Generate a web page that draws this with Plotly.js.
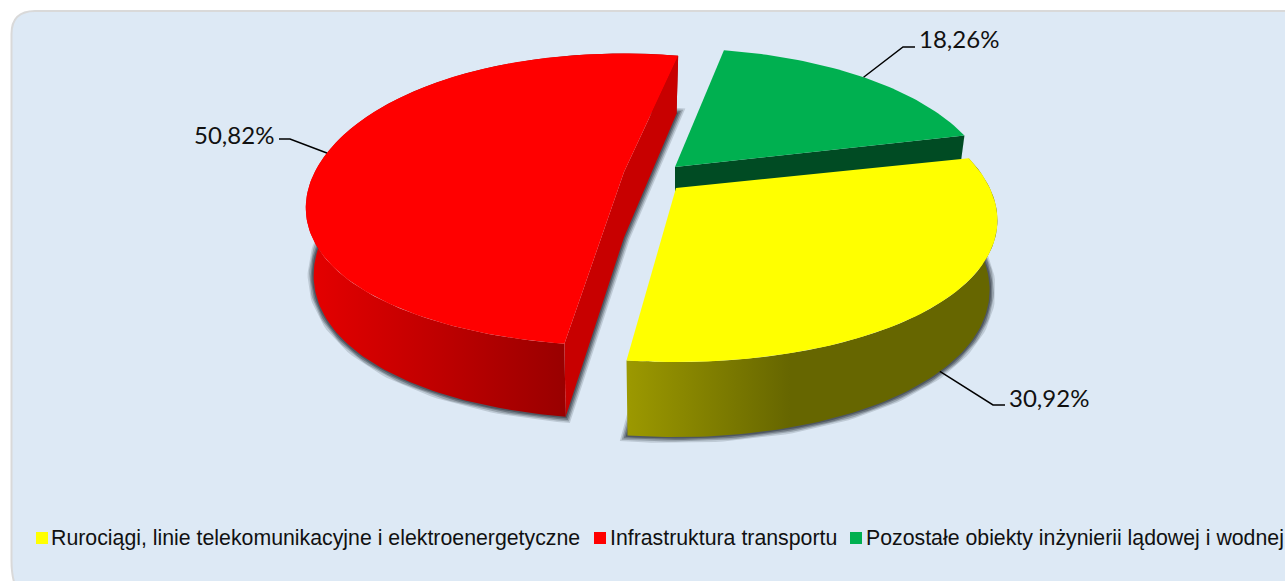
<!DOCTYPE html>
<html>
<head>
<meta charset="utf-8">
<script src="https://cdn.plot.ly/plotly-3.0.1.min.js"></script>
<style>html,body{margin:0;padding:0;background:#fff}#chart{width:1285px;height:581px}</style>
</head>
<body>
<div id="chart"></div>
<script>
// ---- chart data ----
var categories = ['Rurociągi, linie telekomunikacyjne i elektroenergetyczne', 'Infrastruktura transportu', 'Pozostałe obiekty inżynierii lądowej i wodnej'];
var shares = [30.92, 50.82, 18.26];

// ---- styling ----
var topColors = ['#FFFF00', '#FF0000', '#00B050'];
var innerWallColors = ['#666600', '#C80000', '#004B23'];
var outerWallScales = [
  {start: 627, stop: 790, colorscale: [[0, '#9C9900'], [1, '#666600']]},
  {start: 306, stop: 565, colorscale: [[0, '#E60000'], [1, '#990000']]},
  {start: 675, stop: 963, colorscale: [[0, '#004B23'], [1, '#004B23']]}
];
// Exploded position of each slice and small per-slice corrections
var apexX = [676, 624, 675];
var apexY = [188, 172, 167];
var scaleX = [1.005, 0.995, 0.99];
var sag = [4, 7, 0];
var turn = [0, 1.6, 0.5];
var depthMid = [67.5, 65.5, 60];
var depthTilt = [7.5, 7.5, 7.5];
// labels: elbow and end of the leader, text anchor
var elbowX = [993, 290, 903];
var elbowY = [405, 139, 47];
var tailX = [1005, 279, 915];
var labelX = [1007, 276, 917];
var labelY = [397, 134, 38];
var labelAnchor = ['left', 'right', 'left'];
var legendSwatchX = [42, 600, 856];
var legendTextX = [48.5, 607.5, 863.5];
var legendY = 538;

// projection of the tilted disc
var FIRST_ANGLE = 76, F = 314, G = 141, P = 0.19, KX = 8;

function project(i, deg, bottom) {
  var t = deg * Math.PI / 180, c = Math.cos(t), s = Math.sin(t), w = 1 + P * c;
  var x = apexX[i] + scaleX[i] * F * s / w;
  var y = apexY[i] - G * c / w + sag[i] * s * s * (1 - c);
  if (bottom) { x -= KX * s; y += depthMid[i] - depthTilt[i] * c; }
  return [x, y];
}
function arc(i, a, b, bottom) {
  var pts = [], n = Math.max(2, Math.ceil(Math.abs(b - a) / 1.2));
  for (var k = 0; k <= n; k++) pts.push(project(i, a + (b - a) * k / n, bottom));
  return pts;
}
function poly(pts, extra) {
  var tr = {
    x: pts.map(function (p) { return p[0]; }),
    y: pts.map(function (p) { return p[1]; }),
    type: 'scatter', mode: 'lines', fill: 'toself', hoverinfo: 'skip', showlegend: false,
    line: {width: 0, color: 'rgba(0,0,0,0)'}
  };
  for (var k in extra) tr[k] = extra[k];
  return tr;
}

// slice angles from the values
var ranges = [], cursor = FIRST_ANGLE;
shares.forEach(function (v, i) {
  var span = v / 100 * 360;
  ranges.push([cursor + turn[i], cursor + turn[i] + span]);
  cursor += span;
});

var traces = [];
function apexPt(i, bottom) { return [apexX[i], apexY[i] + (bottom ? depthMid[i] : 0)]; }

function addShadow(i) {
  var pts = [apexPt(i, true)].concat(arc(i, ranges[i][0], ranges[i][1], true));
  pts.push(pts[0]);
  [[12, 0.18], [9, 0.28], [6, 0.4], [3, 0.55]].forEach(function (s) {
    traces.push(poly(pts, {fill: 'none', line: {width: s[0], color: 'rgba(52,60,70,' + s[1] + ')'}}));
  });
}
function addOuterWall(i) {
  var a = arc(i, ranges[i][0], ranges[i][1], false);
  var b = arc(i, ranges[i][1], ranges[i][0], true);
  traces.push(poly(a.concat(b), {fillgradient: {type: 'horizontal', start: outerWallScales[i].start, stop: outerWallScales[i].stop, colorscale: outerWallScales[i].colorscale}}));
}
function addCut(i, deg) {
  var pts = [project(i, deg, false), apexPt(i, false), apexPt(i, true), project(i, deg, true)];
  traces.push(poly(pts, {fillcolor: innerWallColors[i]}));
}
function addTop(i) {
  var pts = [apexPt(i, false)].concat(arc(i, ranges[i][0], ranges[i][1], false));
  traces.push(poly(pts, {fillcolor: topColors[i], name: categories[i]}));
}

// red
addShadow(1);
addOuterWall(1);
addCut(1, ranges[1][1]);
addCut(1, ranges[1][0]);
addTop(1);
// green
addCut(2, ranges[2][1]);
addTop(2);
// yellow
addShadow(0);
addOuterWall(0);
addTop(0);

// leader lines, anchored on the mid-angle of each slice
var annotations = [];
shares.forEach(function (v, i) {
  var mid = (ranges[i][0] + ranges[i][1]) / 2;
  var anchor = project(i, mid, i === 0);
  traces.push({
    x: [anchor[0], elbowX[i], tailX[i]], y: [anchor[1], elbowY[i], elbowY[i]],
    type: 'scatter', mode: 'lines', hoverinfo: 'skip', showlegend: false,
    line: {color: '#000000', width: 1.5}
  });
  annotations.push({
    x: labelX[i], y: labelY[i], xref: 'x', yref: 'y', xanchor: labelAnchor[i], yanchor: 'middle',
    text: v.toFixed(2).replace('.', ',') + '%', showarrow: false,
    font: {family: 'Lato, "Open Sans", sans-serif', size: 24, color: '#111111'}
  });
});

// legend row
categories.forEach(function (c, i) {
  traces.push({
    x: [legendSwatchX[i]], y: [legendY], type: 'scatter', mode: 'markers', hoverinfo: 'skip', showlegend: false, name: c,
    marker: {symbol: 'square', size: 12, color: topColors[i], line: {width: 0}}
  });
  annotations.push({
    x: legendTextX[i], y: legendY, xref: 'x', yref: 'y', xanchor: 'left', yanchor: 'middle',
    text: c, showarrow: false,
    font: {family: '"Liberation Sans", Arial, sans-serif', size: 21.3, color: '#111111'}
  });
});

var layout = {
  width: 1285, height: 581,
  margin: {l: 0, r: 0, t: 0, b: 0},
  paper_bgcolor: '#FFFFFF', plot_bgcolor: 'rgba(0,0,0,0)',
  showlegend: false,
  xaxis: {range: [0, 1285], visible: false, fixedrange: true},
  yaxis: {range: [581, 0], visible: false, fixedrange: true},
  annotations: annotations,
  shapes: [{
    type: 'path', xref: 'x', yref: 'y', layer: 'below',
    path: 'M 11.5 34 Q 11.5 11 35 11 L 1300 11 L 1300 600 L 35 600 Q 11.5 600 11.5 560 Z',
    fillcolor: '#DDE9F5', line: {color: '#D9D9D9', width: 2}
  }]
};
Plotly.newPlot('chart', traces, layout, {displayModeBar: false, staticPlot: true});
</script>
</body>
</html>
